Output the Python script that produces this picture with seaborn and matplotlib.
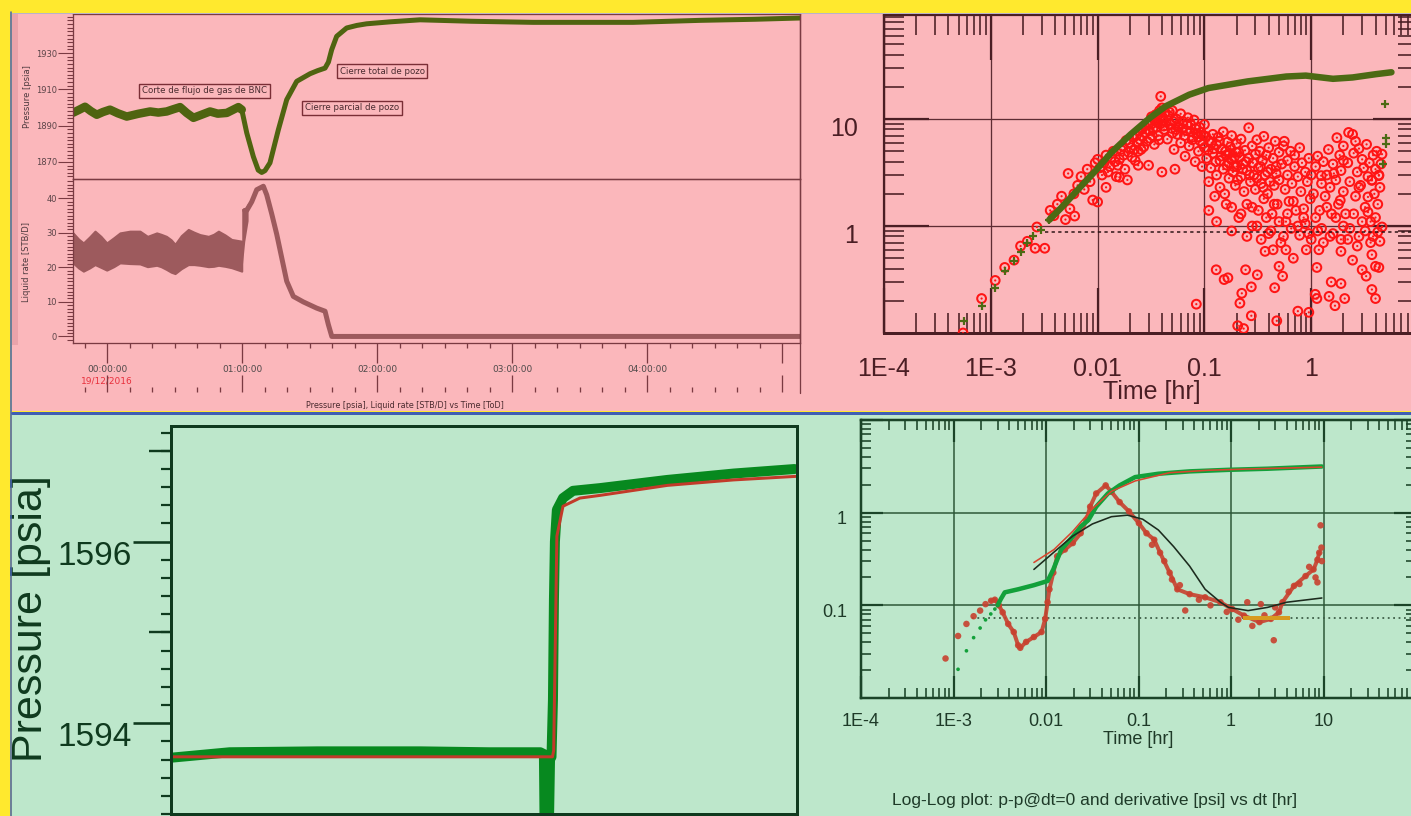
import numpy as np
import matplotlib
matplotlib.use("Agg")
import matplotlib.pyplot as plt
import seaborn as sns
from matplotlib import transforms
from matplotlib.lines import Line2D
from matplotlib.patches import Rectangle
from matplotlib.ticker import MultipleLocator, LogLocator, NullFormatter

W, H = 1411, 816

# ---------------- top-left: pressure & liquid rate vs time of day (hours from 00:00) ----------------
press_t = [-0.252, -0.21, -0.163, -0.12, -0.076, -0.03, 0.022, 0.08, 0.146, 0.23, 0.319, 0.38, 0.442,
           0.49, 0.541, 0.59, 0.64, 0.70, 0.763, 0.82, 0.887, 0.93, 0.973, 0.998, 1.035, 1.084, 1.12,
           1.146, 1.17, 1.207, 1.269, 1.331, 1.405, 1.504, 1.56, 1.615, 1.64, 1.664, 1.701, 1.775, 1.85,
           1.923, 2.10, 2.319, 2.70, 3.156, 3.50, 3.896, 4.393, 4.80, 5.133]
press_psia = [1897.1, 1898.6, 1900.4, 1898.0, 1896.0, 1897.5, 1898.8, 1896.8, 1895.0, 1896.5, 1897.8,
              1897.2, 1897.8, 1899.0, 1900.2, 1897.0, 1894.3, 1896.0, 1897.8, 1896.6, 1897.0, 1898.6,
              1900.2, 1898.8, 1886.0, 1872.9, 1865.5, 1864.2, 1865.2, 1869.5, 1887.7, 1904.3, 1914.4,
              1918.6, 1920.3, 1921.7, 1925.0, 1931.8, 1939.2, 1943.8, 1945.2, 1946.1, 1947.2, 1948.3,
              1947.5, 1946.9, 1946.9, 1946.9, 1948.0, 1948.6, 1949.3]

rate_band_t = [-0.252, -0.21, -0.175, -0.13, -0.089, -0.045, -0.002, 0.05, 0.096, 0.17, 0.244, 0.30,
               0.368, 0.40, 0.44, 0.475, 0.504, 0.55, 0.602, 0.645, 0.689, 0.751, 0.79, 0.825, 0.875,
               0.923, 0.998]
rate_band_hi = [30.0, 28.2, 27.1, 28.8, 30.5, 29.0, 27.1, 28.6, 30.0, 30.5, 30.5, 29.0, 30.0, 29.6,
                29.0, 28.0, 26.7, 29.2, 31.0, 30.2, 29.5, 29.0, 29.6, 30.5, 29.4, 28.1, 27.6]
rate_band_lo = [21.3, 19.8, 18.9, 19.8, 20.8, 20.0, 19.2, 20.2, 21.3, 21.1, 21.0, 20.2, 20.6, 20.2,
                19.4, 18.6, 18.2, 19.6, 20.8, 20.8, 20.6, 20.2, 20.3, 20.6, 20.3, 19.9, 18.9]
rate_jump_t = [0.998, 1.02, 1.045]
rate_jump_lo = [18.9, 27.5, 33.5]
rate_jump_hi = [37.0, 37.2, 38.8]
rate_t = [1.02, 1.035, 1.072, 1.109, 1.158, 1.183, 1.220, 1.257, 1.294, 1.331, 1.380, 1.454, 1.553,
          1.615, 1.639, 1.665, 2.5, 3.5, 4.5, 5.133]
rate_stbd = [36.5, 36.5, 39.0, 42.5, 43.5, 41.0, 35.5, 29.6, 22.8, 16.0, 11.6, 10.0, 8.2, 7.3, 3.5,
             0.0, 0.0, 0.0, 0.0, 0.0]

hour_ticks = [0, 1, 2, 3, 4, 5]
hour_labels = ["00:00:00", "01:00:00", "02:00:00", "03:00:00", "04:00:00", ""]
event_labels = ["Corte de flujo de gas de BNC", "Cierre total de pozo", "Cierre parcial de pozo"]
event_t = [0.722, 2.037, 1.815]
event_p = [1909.2, 1920.0, 1899.9]

# ---------------- top-right: log-log diagnostic, first build-up ----------------
ll_dp_cross_t = [5.56e-4, 8.2e-4, 1.1e-3, 1.36e-3, 1.65e-3, 1.92e-3, 2.2e-3, 2.5e-3, 2.97e-3, 3.52e-3]
ll_dp_cross = [0.13, 0.177, 0.265, 0.377, 0.474, 0.57, 0.69, 0.80, 0.92, 1.14]
ll_dp_t = [3.52e-3, 4.5e-3, 5.3e-3, 6.87e-3, 9.6e-3, 0.01346, 0.0204, 0.031, 0.0435, 0.072, 0.109,
           0.254, 0.585, 0.89, 1.6, 2.44, 4.04, 5.64]
ll_dp = [1.14, 1.46, 1.74, 2.31, 3.3, 4.88, 7.2, 10.3, 13.2, 16.9, 19.5, 22.5, 25.0, 25.5, 23.8,
         24.5, 26.3, 27.4]
ll_dp_late_t = [4.9, 5.0, 5.0, 4.75]
ll_dp_late = [13.9, 6.6, 5.9, 3.8]

der_t_early = [5.5e-4, 8.2e-4, 1.1e-3, 1.35e-3, 1.65e-3, 1.9e-3, 2.2e-3, 2.6e-3, 2.7e-3, 3.2e-3, 3.6e-3,
               3.9e-3, 4.2e-3, 4.6e-3, 5.0e-3, 5.3e-3, 5.5e-3, 6.0e-3, 6.1e-3, 6.5e-3, 7.0e-3, 7.5e-3,
               8.0e-3, 8.5e-3, 9.0e-3, 9.5e-3]
der_early = [0.10, 0.21, 0.31, 0.41, 0.48, 0.65, 0.72, 0.62, 0.98, 0.62, 1.4, 1.25, 1.6, 1.9, 1.15,
             3.1, 1.45, 2.0, 1.24, 2.4, 2.9, 2.2, 3.4, 2.6, 1.75, 3.9]
der_t_peak = [0.010, 0.010, 0.011, 0.012, 0.012, 0.013, 0.014, 0.015, 0.016, 0.016, 0.017, 0.018,
              0.019, 0.020, 0.021, 0.022, 0.023, 0.024, 0.024, 0.025, 0.026, 0.027, 0.028, 0.030,
              0.030, 0.031, 0.032, 0.033, 0.034, 0.035, 0.036, 0.037, 0.038, 0.039, 0.040, 0.040,
              0.041, 0.042, 0.043, 0.045, 0.046, 0.048, 0.050, 0.050, 0.052, 0.053, 0.055, 0.057,
              0.060, 0.060, 0.063, 0.066, 0.068, 0.070, 0.072, 0.075, 0.078, 0.080, 0.082, 0.085,
              0.088, 0.090, 0.092, 0.095, 0.098]
der_peak = [4.2, 1.68, 3.0, 4.6, 2.3, 3.6, 5.0, 2.9, 4.2, 2.86, 5.6, 3.4, 2.7, 6.0, 4.4, 5.2, 7.0,
            3.7, 5.0, 6.4, 8.0, 5.5, 7.5, 9.0, 3.7, 6.6, 10.5, 8.2, 5.8, 11.0, 9.4, 7.0, 12.0, 16.3,
            12.7, 3.2, 9.8, 8.0, 11.5, 6.5, 10.8, 9.0, 12.0, 7.4, 5.2, 3.4, 10.0, 8.5, 11.2, 6.0,
            9.5, 4.5, 7.8, 10.3, 5.6, 8.8, 6.8, 9.8, 4.0, 7.3, 5.0, 8.4, 6.2, 3.6, 7.0]
der_t_fill = [0.0105, 0.0115, 0.0125, 0.0135, 0.0145, 0.0155, 0.0165, 0.0175, 0.0185, 0.0195, 0.0205,
              0.0215, 0.0225, 0.0235, 0.0245, 0.0255, 0.0265, 0.0275, 0.029, 0.0305, 0.0315, 0.0325,
              0.0345, 0.0355, 0.0365, 0.0375, 0.0385, 0.0405, 0.0415, 0.044, 0.047, 0.049, 0.051,
              0.054, 0.056, 0.058, 0.062, 0.065, 0.069, 0.074, 0.077, 0.083, 0.087, 0.093, 0.097,
              0.103, 0.108, 0.117, 0.123, 0.128, 0.138, 0.143, 0.158, 0.163, 0.172, 0.178, 0.188,
              0.198, 0.205, 0.215, 0.228, 0.245, 0.265, 0.285, 0.31, 0.335, 0.355, 0.39, 0.41, 0.47]
der_fill = [3.5, 3.9, 3.2, 4.4, 4.0, 3.7, 5.2, 4.6, 6.3, 4.9, 5.4, 6.8, 4.1, 6.0, 7.8, 5.2, 6.9, 8.6,
            6.2, 7.8, 8.9, 7.0, 9.6, 8.4, 10.8, 6.4, 9.0, 10.4, 8.6, 9.3, 11.6, 8.2, 9.5, 8.0, 7.2,
            9.0, 8.1, 7.0, 8.9, 7.6, 6.4, 8.1, 6.8, 7.5, 5.9, 6.9, 5.1, 6.0, 5.3, 4.0, 6.2, 4.5, 5.0,
            3.7, 4.8, 4.2, 3.6, 4.9, 2.7, 4.4, 3.4, 4.0, 3.0, 3.9, 2.8, 3.6, 2.3, 3.2, 2.6, 3.6]
der_t_mid = [0.100, 0.100, 0.105, 0.110, 0.110, 0.115, 0.120, 0.120, 0.125, 0.130, 0.130, 0.135,
             0.140, 0.140, 0.145, 0.150, 0.150, 0.155, 0.160, 0.165, 0.170, 0.170, 0.175, 0.180,
             0.180, 0.185, 0.190, 0.195, 0.200, 0.200, 0.210, 0.210, 0.220, 0.220, 0.230, 0.235,
             0.240, 0.250, 0.250, 0.260, 0.260, 0.270, 0.280, 0.280, 0.290, 0.300, 0.300, 0.310,
             0.320, 0.320, 0.330, 0.340, 0.350, 0.360, 0.360, 0.370, 0.380, 0.390, 0.400, 0.400,
             0.420, 0.430, 0.440, 0.450, 0.460, 0.470, 0.480, 0.500, 0.500, 0.520, 0.530, 0.550,
             0.560, 0.570, 0.580, 0.600, 0.600, 0.620, 0.640, 0.660, 0.680, 0.700, 0.700, 0.720,
             0.750, 0.780, 0.800, 0.820, 0.850, 0.880, 0.900, 0.920, 0.950, 0.980, 1.000]
der_mid = [5.4, 8.9, 4.3, 6.3, 2.6, 3.5, 7.2, 4.8, 1.9, 5.8, 3.0, 6.8, 2.3, 4.1, 5.2, 3.4, 7.6, 2.0,
           4.6, 6.1, 2.8, 3.9, 5.5, 1.5, 7.0, 3.2, 4.4, 2.4, 5.9, 3.6, 1.2, 4.9, 2.9, 6.5, 3.8, 2.1,
           5.1, 1.6, 3.3, 8.3, 4.3, 2.6, 5.6, 1.0, 3.0, 4.7, 2.2, 6.4, 1.4, 3.5, 5.0, 2.5, 4.1, 1.8,
           6.9, 3.0, 4.6, 2.0, 5.4, 0.85, 3.4, 1.3, 4.3, 2.4, 6.2, 3.1, 1.6, 4.9, 2.7, 0.7, 3.8, 5.6,
           6.2, 2.2, 1.1, 4.1, 3.0, 1.7, 5.0, 2.5, 0.5, 3.6, 4.6, 1.4, 2.9, 5.4, 2.1, 3.9, 1.2, 3.2,
           0.6, 2.6, 4.3, 1.8, 3.0]
der_t_low = [0.084, 0.129, 0.153, 0.166, 0.205, 0.233, 0.215, 0.224, 0.275, 0.275, 0.313, 0.243,
             0.455, 0.476, 0.50, 0.54, 0.37, 0.44, 0.58, 0.75, 0.95, 1.09, 1.13, 1.13, 1.18, 1.47,
             1.54, 1.67, 1.9, 2.06, 1.9, 2.44, 3.0, 3.27, 3.7, 4.0, 3.7, 4.0, 4.3]
der_low = [0.186, 0.39, 0.316, 0.328, 0.117, 0.11, 0.19, 0.235, 0.27, 0.145, 0.35, 0.39, 0.265,
           0.13, 0.42, 0.34, 0.58, 0.60, 0.60, 0.16, 0.156, 0.23, 0.21, 0.41, 0.60, 0.22, 0.30,
           0.18, 0.29, 0.21, 0.58, 0.48, 0.39, 0.34, 0.255, 0.21, 0.54, 0.42, 0.41]
der_t_late = [1.05, 1.1, 1.15, 1.2, 1.24, 1.25, 1.3, 1.35, 1.4, 1.45, 1.5, 1.55, 1.6, 1.63, 1.7,
              1.74, 1.8, 1.85, 1.87, 1.9, 2.0, 2.0, 2.0, 2.1, 2.2, 2.24, 2.3, 2.44, 2.5, 2.6, 2.6,
              2.7, 2.8, 2.8, 2.9, 3.0, 3.1, 3.2, 3.3, 3.4, 3.4, 3.5, 3.6, 3.7, 3.7, 3.8, 3.9, 4.0,
              4.1, 4.2, 4.3, 4.3, 4.4, 4.5, 4.6, 4.6]
der_late = [2.0, 3.6, 4.5, 1.4, 2.96, 2.5, 4.0, 1.9, 3.0, 5.2, 2.3, 1.3, 3.8, 3.1, 2.7, 6.7, 1.6,
            4.6, 1.74, 3.3, 2.1, 5.6, 4.1, 1.3, 3.9, 7.5, 2.6, 7.2, 4.8, 6.2, 1.9, 3.2, 5.3, 2.3,
            2.4, 4.2, 3.5, 1.5, 5.8, 2.9, 1.87, 3.9, 1.1, 2.7, 2.67, 4.6, 2.0, 3.4, 5.0, 1.6, 3.0,
            2.96, 2.3, 3.8, 4.7, 0.98]
der_t_unit = [0.11, 0.13, 0.16, 0.18, 0.22, 0.25, 0.28, 0.31, 0.34, 0.38, 0.42, 0.45, 0.50, 0.55,
              0.60, 0.65, 0.68, 0.75, 0.78, 0.85, 0.88, 0.95, 1.0, 1.1, 1.15, 1.25, 1.3, 1.4, 1.5,
              1.6, 1.7, 1.9, 2.0, 2.2, 2.3, 2.5, 2.7, 2.8, 3.0, 3.2, 3.4, 3.6, 3.8, 4.0, 4.2, 4.4]
der_unit = [1.4, 1.1, 1.6, 0.9, 1.3, 0.8, 1.5, 1.0, 0.75, 1.2, 0.9, 1.6, 1.1, 0.8, 1.3, 0.95, 1.7,
            1.0, 0.82, 1.45, 1.05, 0.85, 0.75, 1.2, 0.9, 0.95, 0.7, 1.5, 0.8, 0.85, 1.2, 0.75, 1.0,
            0.75, 0.95, 1.3, 0.65, 0.8, 1.1, 0.9, 1.35, 0.7, 0.8, 1.2, 0.88, 0.72]
ll_stab_t = [3.2e-3, 10.0]
ll_stab = [0.885, 0.885]
ll_xtick_labels = ["1E-4", "1E-3", "0.01", "0.1", "1", ""]
ll_ytick_labels = ["1", "10"]

# ---------------- bottom-left: second build-up, pressure vs elapsed time [hr] ----------------
bl_t_meas = [0.0, 2.4, 6.0, 10.2, 13.0, 15.1, 15.25, 15.28, 15.45, 15.5, 15.56, 15.62, 15.66, 15.70,
             15.78, 16.03, 16.44, 17.55, 20.3, 23.0, 25.5]
bl_p_meas = [1593.62, 1593.68, 1593.69, 1593.69, 1593.68, 1593.68, 1593.66, 1592.8, 1592.8, 1593.6,
             1593.63, 1594.26, 1595.36, 1596.0, 1596.35, 1596.48, 1596.56, 1596.59, 1596.68,
             1596.75, 1596.80]
bl_t_model = [0.0, 15.6, 15.65, 15.78, 16.03, 16.72, 17.55, 20.3, 23.0, 25.6]
bl_p_model = [1593.63, 1593.63, 1593.70, 1596.06, 1596.39, 1596.48, 1596.51, 1596.62, 1596.68, 1596.72]

# ---------------- bottom-right: log-log diagnostic, second build-up ----------------
br_dp_dots_t = [1.12e-3, 1.38e-3, 1.65e-3, 1.94e-3, 2.22e-3, 2.53e-3, 2.8e-3]
br_dp_dots = [0.0204, 0.0323, 0.0448, 0.0569, 0.0697, 0.0807, 0.0912]
br_dp_t = [3.0e-3, 3.25e-3, 3.58e-3, 5.0e-3, 7.4e-3, 0.0104, 0.012, 0.0146, 0.0195, 0.0237, 0.0288,
           0.0349, 0.0467, 0.0625, 0.0919, 0.164, 0.357, 0.94, 2.48, 9.6]
br_dp = [0.10, 0.117, 0.138, 0.149, 0.165, 0.183, 0.244, 0.40, 0.553, 0.707, 0.834, 1.16, 1.61,
         1.97, 2.42, 2.63, 2.79, 2.9, 2.98, 3.15]
br_der_early_t = [8.2e-4, 1.12e-3, 1.38e-3, 1.65e-3, 1.94e-3, 2.22e-3]
br_der_early = [0.0267, 0.0467, 0.063, 0.0763, 0.0877, 0.103]
br_der_t = [2.55e-3, 2.8e-3, 3.1e-3, 3.4e-3, 3.9e-3, 4.48e-3, 5.0e-3, 5.27e-3, 6.1e-3, 7.4e-3,
            8.95e-3, 9.8e-3, 0.0104, 0.0109, 0.012, 0.0132, 0.016, 0.0195, 0.0237, 0.0273, 0.03,
            0.0349, 0.0442, 0.051, 0.0625, 0.079, 0.101, 0.122, 0.148, 0.171, 0.217, 0.263, 0.357,
            0.525, 0.77, 1.03, 1.38, 2.03, 2.7, 3.3, 3.6, 4.8, 6.4, 7.8, 8.6, 9.0]
br_der = [0.112, 0.115, 0.1, 0.084, 0.063, 0.0515, 0.037, 0.0348, 0.0403, 0.0455, 0.0515, 0.0714,
          0.108, 0.149, 0.225, 0.339, 0.40, 0.47, 0.60, 0.83, 1.16, 1.61, 1.97, 1.68, 1.3, 1.03,
          0.77, 0.60, 0.51, 0.37, 0.225, 0.149, 0.132, 0.122, 0.108, 0.0913, 0.0775, 0.0659,
          0.0714, 0.084, 0.108, 0.162, 0.207, 0.244, 0.31, 0.37]
br_der_scatter_t = [9.3, 8.6, 2.9, 0.32, 1.5, 2.1, 0.14, 0.19, 0.23, 0.28, 0.45, 0.6, 0.9, 1.2, 1.7,
                    2.3, 3.0, 4.2, 5.5, 7.0, 8.2, 9.5, 9.6]
br_der_scatter = [0.73, 0.177, 0.042, 0.088, 0.108, 0.103, 0.45, 0.30, 0.19, 0.165, 0.115, 0.10,
                  0.085, 0.07, 0.060, 0.078, 0.095, 0.14, 0.17, 0.26, 0.2, 0.42, 0.30]
br_model_dp_t = [7.4e-3, 0.0122, 0.0195, 0.0317, 0.051, 0.092, 0.217, 0.57, 2.0, 9.6]
br_model_dp = [0.29, 0.40, 0.63, 1.1, 1.7, 2.2, 2.7, 2.87, 2.98, 3.1]
br_model_der_t = [7.4e-3, 0.012, 0.0195, 0.0317, 0.051, 0.076, 0.111, 0.164, 0.24, 0.357, 0.525,
                  0.77, 0.94, 1.53, 2.48, 4.0, 9.6]
br_model_der = [0.244, 0.37, 0.56, 0.755, 0.905, 0.94, 0.85, 0.65, 0.43, 0.265, 0.149, 0.108,
                0.095, 0.0877, 0.095, 0.108, 0.12]
br_stab_t = [1.57e-3, 100.0]
br_stab = [0.0726, 0.0726]
br_iarf_t = [1.34, 4.3]
br_iarf = [0.0726, 0.0726]
br_xtick_labels = ["1E-4", "1E-3", "0.01", "0.1", "1", "10", ""]
br_ytick_labels = ["0.1", "1", ""]

# ---------------- colours ----------------
YELLOW = "#FFE92E"
PINK = "#FBB7BB"
GREEN_BG = "#BDE7CB"
MAROON = "#7A3A42"
OLIVE = "#4F6410"
ROSE = "#9D5A5D"
DATE_RED = "#E8303C"
LL_INK = "#4A1E24"
LL_GRID = "#5E2C33"
RED = "#FF1414"
CROSS = "#4C6A14"
BL_INK = "#0F3A1E"
MEAS_GREEN = "#07891F"
MODEL_RED = "#C23A2A"
BR_INK = "#1B4428"
BR_GRID = "#2B5535"
BR_GREEN = "#12A03A"
BR_RED = "#C8412F"

sns.set_style("ticks")
plt.rcParams["font.family"] = ["DejaVu Sans"]

fig = plt.figure(figsize=(W / 100, H / 100), dpi=100)
fig.patch.set_facecolor(YELLOW)


def frac(l, t, r, b):
    return [l / W, 1 - b / H, (r - l) / W, (b - t) / H]


def pt(pixels):
    return pixels * 0.72


def panel(l, t, r, b, color, z=-5):
    fig.add_artist(Rectangle((l / W, 1 - b / H), (r - l) / W, (b - t) / H, transform=fig.transFigure,
                             facecolor=color, edgecolor="none", zorder=z))


def rule(x0, y0, x1, y1, color, width, z=5):
    fig.add_artist(Line2D([x0 / W, x1 / W], [1 - y0 / H, 1 - y1 / H], transform=fig.transFigure,
                          color=color, linewidth=pt(width), zorder=z))


def shift_ylabels(ax, dy_px):
    off = transforms.ScaledTranslation(0, -dy_px / 100, fig.dpi_scale_trans)
    for tick in ax.yaxis.get_major_ticks():
        tick.label1.set_transform(tick.label1.get_transform() + off)


# backgrounds and frame rules
panel(12, 14, W, 411, PINK)
panel(12, 414, W, H, GREEN_BG)
panel(12, 14, 18, 345, "#EBA3AA", z=-4)
rule(11, 12, 11, H, "#4A66B2", 1.6)
rule(12, 13, W, 13, "#B9B2C8", 1.0)
rule(12, 412.5, W, 412.5, "#3F5EB3", 3.0)

# ======================= top-left =======================
ax_p = fig.add_axes(frac(73, 14, 800, 179))
ax_r = fig.add_axes(frac(73, 179, 800, 343))
for ax in (ax_p, ax_r):
    ax.set_facecolor("none")
    ax.set_xlim(press_t[0], press_t[-1])
    for sp in ax.spines.values():
        sp.set_color(MAROON)
        sp.set_linewidth(pt(1.3))
    ax.tick_params(axis="y", which="both", direction="out", colors=MAROON, labelcolor="#5B4448",
                   labelsize=6, width=pt(1.1), pad=pt(1))
    ax.tick_params(axis="y", which="major", length=pt(15))
    ax.tick_params(axis="y", which="minor", length=pt(6))
ax_p.tick_params(axis="x", which="both", bottom=False, labelbottom=False)

ax_p.set_ylim(1860.6, 1951.5)
ax_p.set_yticks([1870, 1890, 1910, 1930])
ax_p.yaxis.set_minor_locator(MultipleLocator(2))
sns.lineplot(x=press_t[:24], y=press_psia[:24], ax=ax_p, color=OLIVE, linewidth=pt(8.5),
             estimator=None, sort=False, solid_capstyle="round", solid_joinstyle="round")
sns.lineplot(x=press_t[23:], y=press_psia[23:], ax=ax_p, color=OLIVE, linewidth=pt(5),
             estimator=None, sort=False, solid_capstyle="round", solid_joinstyle="round")
ax_p.set_xlabel("")
ax_p.set_ylabel("")
for lab, t, p in zip(event_labels, event_t, event_p):
    ax_p.text(t, p, lab, ha="center", va="center", fontsize=6.2, color="#4A2C30",
              bbox=dict(boxstyle="square,pad=0.3", fc="none", ec="#7A2E36", lw=pt(1.4)))

ax_r.set_ylim(-1.9, 45.6)
ax_r.set_yticks([0, 10, 20, 30, 40])
ax_r.yaxis.set_minor_locator(MultipleLocator(1))
ax_r.fill_between(rate_band_t, rate_band_lo, rate_band_hi, color=ROSE, linewidth=pt(2), edgecolor=ROSE)
ax_r.fill_between(rate_jump_t, rate_jump_lo, rate_jump_hi, color=ROSE, linewidth=0)
sns.lineplot(x=rate_t, y=rate_stbd, ax=ax_r, color=ROSE, linewidth=pt(5), estimator=None, sort=False,
             solid_capstyle="round", solid_joinstyle="round")
ax_r.set_xlabel("")
ax_r.set_ylabel("")
ax_r.set_xticks(hour_ticks)
ax_r.set_xticklabels(hour_labels)
ax_r.xaxis.set_minor_locator(MultipleLocator(1 / 6))
ax_r.tick_params(axis="x", which="both", direction="out", colors=MAROON, labelcolor="#4E4A4A",
                 labelsize=6.5, width=pt(1.3), pad=pt(2))
ax_r.tick_params(axis="x", which="major", length=pt(20))
ax_r.tick_params(axis="x", which="minor", length=pt(5))
ax_r.xaxis.get_major_ticks()[0].tick1line.set_color(DATE_RED)

ax_t2 = fig.add_axes(frac(73, 392, 800, 393))
ax_t2.set_facecolor("none")
ax_t2.set_xlim(press_t[0], press_t[-1])
ax_t2.set_yticks([])
for sp in ax_t2.spines.values():
    sp.set_visible(False)
ax_t2.set_xticks(hour_ticks)
ax_t2.xaxis.set_minor_locator(MultipleLocator(1 / 6))
ax_t2.tick_params(axis="x", which="both", top=True, bottom=False, labeltop=False, labelbottom=False,
                  direction="out", colors=MAROON, width=pt(1.3))
ax_t2.tick_params(axis="x", which="major", length=pt(17))
ax_t2.tick_params(axis="x", which="minor", length=pt(5))
ax_t2.xaxis.get_major_ticks()[0].tick2line.set_color(DATE_RED)

date_tr = transforms.blended_transform_factory(ax_r.transData, fig.transFigure)
ax_r.text(0, 1 - 381 / H, "19/12/2016", transform=date_tr, ha="center", va="center", fontsize=6.5,
          color=DATE_RED)
fig.text(27 / W, 1 - 97 / H, "Pressure [psia]", rotation=90, ha="center", va="center", fontsize=6,
         color="#4E3A3E")
fig.text(27 / W, 1 - 262 / H, "Liquid rate [STB/D]", rotation=90, ha="center", va="center",
         fontsize=6, color="#4E3A3E")
fig.text(405 / W, 1 - 406 / H, "Pressure [psia], Liquid rate [STB/D] vs Time [ToD]", ha="center",
         va="center", fontsize=5.8, color="#4A2A2E")
rule(800, 14, 800, 393, MAROON, 1.3)

# ======================= top-right =======================
ax_ll = fig.add_axes(frac(884, 15, 1418, 333))
ax_ll.set_facecolor("none")
ax_ll.set_xscale("log")
ax_ll.set_yscale("log")
ax_ll.set_xlim(1e-4, 10)
ax_ll.set_ylim(0.1, 94)
ax_ll.set_axisbelow(True)
for sp in ax_ll.spines.values():
    sp.set_color(LL_INK)
    sp.set_linewidth(pt(2.2))
ax_ll.spines["bottom"].set_linewidth(pt(3))

der_t_all = der_t_early + der_t_peak + der_t_fill + der_t_mid + der_t_low + der_t_late + der_t_unit
der_all = der_early + der_peak + der_fill + der_mid + der_low + der_late + der_unit
sns.scatterplot(x=der_t_all, y=der_all, ax=ax_ll, marker="o", s=40, facecolor="none", edgecolor=RED,
                linewidth=pt(2.0), zorder=3)
sns.scatterplot(x=der_t_all, y=der_all, ax=ax_ll, marker="o", s=2.5, color=RED, edgecolor="none",
                zorder=3)
ax_ll.plot(ll_stab_t, ll_stab, color="#2A1214", linewidth=pt(1.5), linestyle=(0, (2.2, 2.2)), zorder=4)
sns.lineplot(x=ll_dp_t, y=ll_dp, ax=ax_ll, color=CROSS, linewidth=pt(6.5), estimator=None, sort=False,
             solid_capstyle="round", zorder=5)
sns.scatterplot(x=ll_dp_cross_t + ll_dp_late_t, y=ll_dp_cross + ll_dp_late, ax=ax_ll, marker="+",
                s=40, color=CROSS, linewidth=pt(2.2), zorder=5)

ax_ll.set_xticks([1e-4, 1e-3, 1e-2, 1e-1, 1, 10])
ax_ll.set_xticklabels(ll_xtick_labels)
ax_ll.xaxis.set_minor_locator(LogLocator(base=10, subs=np.arange(2, 10), numticks=50))
ax_ll.xaxis.set_minor_formatter(NullFormatter())
ax_ll.set_yticks([1, 10])
ax_ll.set_yticklabels(ll_ytick_labels)
ax_ll.yaxis.set_minor_locator(LogLocator(base=10, subs=np.arange(2, 10), numticks=50))
ax_ll.yaxis.set_minor_formatter(NullFormatter())
ax_ll.set_xlim(1e-4, 10)
ax_ll.set_ylim(0.1, 94)
ax_ll.grid(True, which="major", color=LL_GRID, linewidth=pt(1.3))
ax_ll.tick_params(which="both", direction="in", top=True, right=True, colors=LL_INK)
ax_ll.tick_params(which="major", length=pt(45), width=pt(2.2), labelsize=18, pad=pt(24))
ax_ll.tick_params(axis="y", which="major", pad=pt(26))
ax_ll.tick_params(which="minor", length=pt(20), width=pt(1.6))
for lab in ax_ll.get_xticklabels() + ax_ll.get_yticklabels():
    lab.set_fontfamily("Liberation Sans")
ax_ll.set_xlabel("Time [hr]", fontsize=18, family="Liberation Sans", color=LL_INK)
ax_ll.xaxis.label.set_va("center")
ax_ll.xaxis.set_label_coords(0.502, -0.1855)
ax_ll.set_ylabel("")
shift_ylabels(ax_ll, 7)

# ======================= bottom-left =======================
ax_bl = fig.add_axes(frac(171, 426, 797, 814))
ax_bl.set_facecolor("none")
ax_bl.set_xlim(0, 25.6)
ax_bl.set_ylim(1593.0, 1597.274)
for sp in ax_bl.spines.values():
    sp.set_color(BL_INK)
    sp.set_linewidth(pt(3))
sns.lineplot(x=bl_t_meas, y=bl_p_meas, ax=ax_bl, color=MEAS_GREEN, linewidth=pt(10), estimator=None,
             sort=False, solid_joinstyle="round")
sns.lineplot(x=bl_t_model, y=bl_p_model, ax=ax_bl, color=MODEL_RED, linewidth=pt(3), estimator=None,
             sort=False, solid_joinstyle="round")
ax_bl.set_xlabel("")
ax_bl.set_ylabel("")
ax_bl.set_xticks([])
ax_bl.set_yticks([1594, 1596])
ax_bl.set_yticklabels(["1594", "1596"])
ax_bl.yaxis.set_minor_locator(MultipleLocator(0.2))
ax_bl.tick_params(axis="y", which="both", direction="out", colors=BL_INK)
ax_bl.tick_params(axis="y", which="major", length=pt(38), width=pt(2.6), pad=pt(1), labelsize=24)
ax_bl.tick_params(axis="y", which="minor", length=pt(10), width=pt(2.2))
for lab in ax_bl.get_yticklabels():
    lab.set_fontfamily("Liberation Sans")
shift_ylabels(ax_bl, 11)

ax_mid = fig.add_axes(frac(171, 426, 797, 814))
ax_mid.set_facecolor("none")
ax_mid.set_ylim(1593.0, 1597.274)
ax_mid.set_xticks([])
for sp in ax_mid.spines.values():
    sp.set_visible(False)
ax_mid.set_yticks([1595, 1597])
ax_mid.set_yticklabels([])
ax_mid.tick_params(axis="y", direction="out", length=pt(22), width=pt(2.4), colors=BL_INK)

fig.text(31 / W, 1 - 619 / H, "Pressure [psia]", rotation=90, ha="center", va="center", fontsize=31,
         family="Liberation Sans", color=BL_INK)

# ======================= bottom-right =======================
ax_br = fig.add_axes(frac(861, 420, 1416, 698))
ax_br.set_facecolor("none")
ax_br.set_xscale("log")
ax_br.set_yscale("log")
ax_br.set_axisbelow(True)
for sp in ax_br.spines.values():
    sp.set_color(BR_INK)
    sp.set_linewidth(pt(2.5))

ax_br.plot(br_stab_t, br_stab, color="#3F5F48", linewidth=pt(1.8), linestyle=(0, (1, 2)), zorder=2)
sns.lineplot(x=br_der_t, y=br_der, ax=ax_br, color=BR_RED, linewidth=pt(4), estimator=None,
             sort=False, alpha=0.9, zorder=3)
sns.scatterplot(x=br_der_early_t + br_der_t + br_der_scatter_t,
                y=br_der_early + br_der + br_der_scatter, ax=ax_br, marker="o", s=22, color=BR_RED,
                edgecolor="none", alpha=0.9, zorder=3)
sns.scatterplot(x=br_dp_dots_t, y=br_dp_dots, ax=ax_br, marker="o", s=7, color=BR_GREEN,
                edgecolor="none", zorder=4)
sns.lineplot(x=br_dp_t, y=br_dp, ax=ax_br, color=BR_GREEN, linewidth=pt(4.5), estimator=None,
             sort=False, zorder=4)
sns.lineplot(x=br_model_dp_t, y=br_model_dp, ax=ax_br, color="#D9452F", linewidth=pt(1.6),
             estimator=None, sort=False, zorder=5)
sns.lineplot(x=br_model_der_t, y=br_model_der, ax=ax_br, color="#1C2B1E", linewidth=pt(1.6),
             estimator=None, sort=False, zorder=5)
ax_br.plot(br_iarf_t, br_iarf, color="#D79A1E", linewidth=pt(4), solid_capstyle="butt", zorder=6)

ax_br.set_xticks([1e-4, 1e-3, 1e-2, 1e-1, 1, 10, 100])
ax_br.set_xticklabels(br_xtick_labels)
ax_br.xaxis.set_minor_locator(LogLocator(base=10, subs=np.arange(2, 10), numticks=50))
ax_br.xaxis.set_minor_formatter(NullFormatter())
ax_br.set_yticks([0.1, 1, 10])
ax_br.set_yticklabels(br_ytick_labels)
ax_br.yaxis.set_minor_locator(LogLocator(base=10, subs=np.arange(2, 10), numticks=50))
ax_br.yaxis.set_minor_formatter(NullFormatter())
ax_br.set_xlim(1e-4, 100)
ax_br.set_ylim(0.01, 10)
ax_br.grid(True, which="major", color=BR_GRID, linewidth=pt(1.5))
ax_br.tick_params(which="both", direction="in", top=True, right=True, colors=BR_INK,
                  labelcolor="#1E3A28")
ax_br.tick_params(which="major", length=pt(22), width=pt(2.2), labelsize=13, pad=pt(15))
ax_br.tick_params(axis="y", which="major", pad=pt(14))
ax_br.tick_params(which="minor", length=pt(10), width=pt(1.6))
for lab in ax_br.get_xticklabels() + ax_br.get_yticklabels():
    lab.set_fontfamily("Liberation Sans")
ax_br.set_xlabel("Time [hr]", fontsize=13, family="Liberation Sans", color="#1E3A28")
ax_br.xaxis.label.set_va("center")
ax_br.xaxis.set_label_coords(0.499, -0.1475)
ax_br.set_ylabel("")
shift_ylabels(ax_br, 5)

fig.text(1095 / W, 1 - 800 / H, "Log-Log plot: p-p@dt=0 and derivative [psi] vs dt [hr]", ha="center",
         va="center", fontsize=12.5, family="Liberation Sans", color="#1E3A28")

fig.savefig("out.png", dpi=100, facecolor=fig.get_facecolor())
